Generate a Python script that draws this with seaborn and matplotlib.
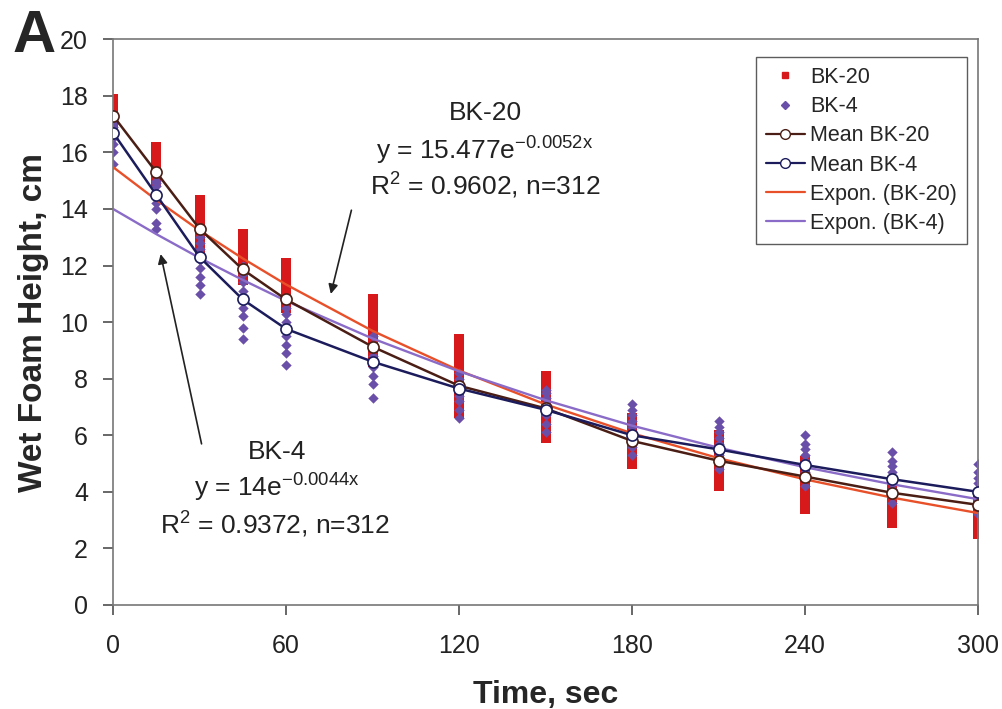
import numpy as np
import pandas as pd
import seaborn as sns
import matplotlib.pyplot as plt
from matplotlib.lines import Line2D

# sample times (sec)
times = [0, 15, 30, 45, 60, 90, 120, 150, 180, 210, 240, 270, 300]

# individual readings (a subset per time point)
bk20_pts = [
    [16.8, 17.0, 17.2, 17.3, 17.4, 17.5, 17.6, 17.7, 17.8, 17.9],
    [15.0, 15.2, 15.4, 15.5, 15.6, 15.7, 15.8, 15.9, 16.0, 16.2],
    [12.5, 12.8, 13.0, 13.2, 13.4, 13.6, 13.8, 14.0, 14.2, 14.3],
    [11.5, 11.7, 11.9, 12.1, 12.3, 12.5, 12.7, 12.9, 13.0, 13.1],
    [10.5, 10.7, 10.9, 11.1, 11.3, 11.5, 11.7, 11.9, 12.0, 12.1],
    [8.6, 8.9, 9.1, 9.4, 9.7, 9.9, 10.1, 10.3, 10.5, 10.8],
    [6.8, 7.1, 7.4, 7.6, 7.9, 8.2, 8.5, 8.8, 9.1, 9.4],
    [5.9, 6.2, 6.4, 6.6, 6.8, 7.0, 7.3, 7.6, 7.9, 8.1],
    [5.0, 5.2, 5.4, 5.6, 5.8, 6.0, 6.1, 6.3, 6.5, 6.6],
    [4.2, 4.4, 4.6, 4.8, 5.0, 5.2, 5.4, 5.6, 5.8, 6.0],
    [3.4, 3.6, 3.8, 4.0, 4.2, 4.4, 4.6, 4.8, 5.0, 5.1],
    [2.9, 3.1, 3.3, 3.5, 3.7, 3.9, 4.0, 4.2, 4.3, 4.4],
    [2.5, 2.7, 2.9, 3.1, 3.3, 3.5, 3.6, 3.7, 3.8, 3.9],
]
bk4_pts = [
    [15.6, 16.0, 16.3, 16.5, 16.7, 16.9, 17.0, 17.1, 17.2, 17.3],
    [13.3, 13.5, 14.0, 14.2, 14.4, 14.6, 14.8, 14.9, 15.0],
    [11.0, 11.3, 11.6, 11.9, 12.2, 12.4, 12.6, 12.8, 13.0],
    [9.4, 9.8, 10.2, 10.5, 10.8, 11.1, 11.4, 11.7, 12.0],
    [8.5, 8.9, 9.2, 9.5, 9.8, 10.0, 10.3, 10.5, 10.8],
    [7.3, 7.8, 8.1, 8.4, 8.6, 8.8, 9.0, 9.2, 9.5],
    [6.6, 6.9, 7.2, 7.4, 7.6, 7.8, 8.0, 8.2],
    [6.1, 6.4, 6.7, 6.9, 7.1, 7.3, 7.5, 7.6],
    [5.3, 5.6, 5.9, 6.1, 6.3, 6.5, 6.7, 6.9, 7.1],
    [4.8, 5.1, 5.3, 5.5, 5.7, 5.9, 6.1, 6.3, 6.5],
    [4.2, 4.5, 4.7, 4.9, 5.1, 5.3, 5.5, 5.7, 6.0],
    [3.6, 3.9, 4.1, 4.3, 4.5, 4.7, 4.9, 5.1, 5.4],
    [3.2, 3.5, 3.7, 3.9, 4.1, 4.3, 4.5, 4.7, 5.0],
]

# means
mean_bk20 = [17.3, 15.3, 13.3, 11.86, 10.8, 9.13, 7.75, 6.95, 5.8, 5.1, 4.54, 3.97, 3.54]
mean_bk4 = [16.7, 14.5, 12.3, 10.8, 9.76, 8.6, 7.65, 6.9, 6.0, 5.5, 4.95, 4.45, 4.0]

# exponential trendlines evaluated at the sample times
expon_bk20 = [15.48, 14.32, 13.24, 12.25, 11.33, 9.69, 8.29, 7.09, 6.07, 5.19, 4.44, 3.80, 3.25]
expon_bk4 = [14.0, 13.11, 12.27, 11.49, 10.75, 9.42, 8.26, 7.24, 6.34, 5.56, 4.87, 4.27, 3.74]

red = "#d7191c"
purple = "#6a4fa8"
brown = "#4a1e14"
navy = "#1c1c5c"
exp_red = "#e8502a"
exp_purple = "#8a6cc8"

sns.set_theme(style="ticks")
plt.rcParams['font.family'] = ['Liberation Sans', 'DejaVu Sans']
plt.rcParams['mathtext.fontset'] = 'custom'
plt.rcParams['mathtext.rm'] = 'Liberation Sans'
plt.rcParams['mathtext.it'] = 'Liberation Sans'

df20 = pd.DataFrame([(t, v) for t, vals in zip(times, bk20_pts) for v in vals], columns=["t", "h"])
df4 = pd.DataFrame([(t, v) for t, vals in zip(times, bk4_pts) for v in vals], columns=["t", "h"])

fig = plt.figure(figsize=(10.03, 7.09), dpi=100)
ax = fig.add_axes([0.1127, 0.1467, 0.8624, 0.798])

sns.scatterplot(data=df20, x="t", y="h", marker="s", color=red, s=50, linewidth=0, ax=ax, zorder=2)
sns.scatterplot(data=df4, x="t", y="h", marker="D", color=purple, s=28, linewidth=0, ax=ax, zorder=2)

sns.lineplot(x=times, y=expon_bk20, color=exp_red, lw=1.7, ax=ax, zorder=3)
sns.lineplot(x=times, y=expon_bk4, color=exp_purple, lw=1.7, ax=ax, zorder=3)
sns.lineplot(x=times, y=mean_bk20, color=brown, lw=1.8, marker="o", markersize=8,
             markerfacecolor="white", markeredgecolor=brown, markeredgewidth=1.2, ax=ax, zorder=4)
sns.lineplot(x=times, y=mean_bk4, color=navy, lw=1.8, marker="o", markersize=8,
             markerfacecolor="white", markeredgecolor=navy, markeredgewidth=1.2, ax=ax, zorder=4)

ax.set_xlim(0, 300)
ax.set_ylim(0, 20)
ax.set_xticks(range(0, 301, 60))
ax.set_yticks(range(0, 21, 2))
ax.tick_params(labelsize=18, length=7, color="#555555", labelcolor="#222222")
ax.tick_params(axis="x", pad=14)
ax.tick_params(axis="y", pad=11)
for sp in ax.spines.values():
    sp.set_color("#777777")
    sp.set_linewidth(1.2)
ax.set_xlabel("Time, sec", fontsize=23, fontweight="bold", labelpad=16)
ax.set_ylabel("Wet Foam Height, cm", fontsize=24, fontweight="bold", labelpad=8)

# annotations
tk = dict(ha="center", va="center", fontsize=19, color="#222222")
ax.text(129, 17.4, "BK-20", **tk)
ax.text(129, 16.05, r"y = 15.477e$^{-0.0052x}$", **tk)
ax.text(129, 14.8, r"R$^2$ = 0.9602, n=312", **tk)
ax.annotate("", xy=(75.3, 10.9), xytext=(82.9, 14.05),
            arrowprops=dict(arrowstyle="-|>", color="#222222", lw=1.2, mutation_scale=14))

ax.text(57, 5.42, "BK-4", **tk)
ax.text(57, 4.14, r"y = 14e$^{-0.0044x}$", **tk)
ax.text(56, 2.83, r"R$^2$ = 0.9372, n=312", **tk)
ax.annotate("", xy=(16.3, 12.5), xytext=(30.9, 5.6),
            arrowprops=dict(arrowstyle="-|>", color="#222222", lw=1.2, mutation_scale=14))

handles = [
    Line2D([], [], ls="", marker="s", color=red, markersize=5),
    Line2D([], [], ls="", marker="D", color=purple, markersize=4),
    Line2D([], [], color=brown, lw=1.6, marker="o", markersize=7, markerfacecolor="white"),
    Line2D([], [], color=navy, lw=1.6, marker="o", markersize=7, markerfacecolor="white"),
    Line2D([], [], color=exp_red, lw=1.6),
    Line2D([], [], color=exp_purple, lw=1.6),
]
labels = ["BK-20", "BK-4", "Mean BK-20", "Mean BK-4", "Expon. (BK-20)", "Expon. (BK-4)"]
leg = ax.legend(handles, labels, loc="upper right", bbox_to_anchor=(0.987, 0.968),
                borderaxespad=0, fontsize=15.5, frameon=True, fancybox=False,
                handlelength=1.8, handletextpad=0.25, labelspacing=0.38, borderpad=0.45)
leg.get_frame().set_edgecolor("#333333")
leg.get_frame().set_linewidth(1.0)

fig.text(0.012, 0.927, "A", fontsize=43, fontweight="bold", va="baseline", ha="left")

fig.savefig("out.png", dpi=100)
